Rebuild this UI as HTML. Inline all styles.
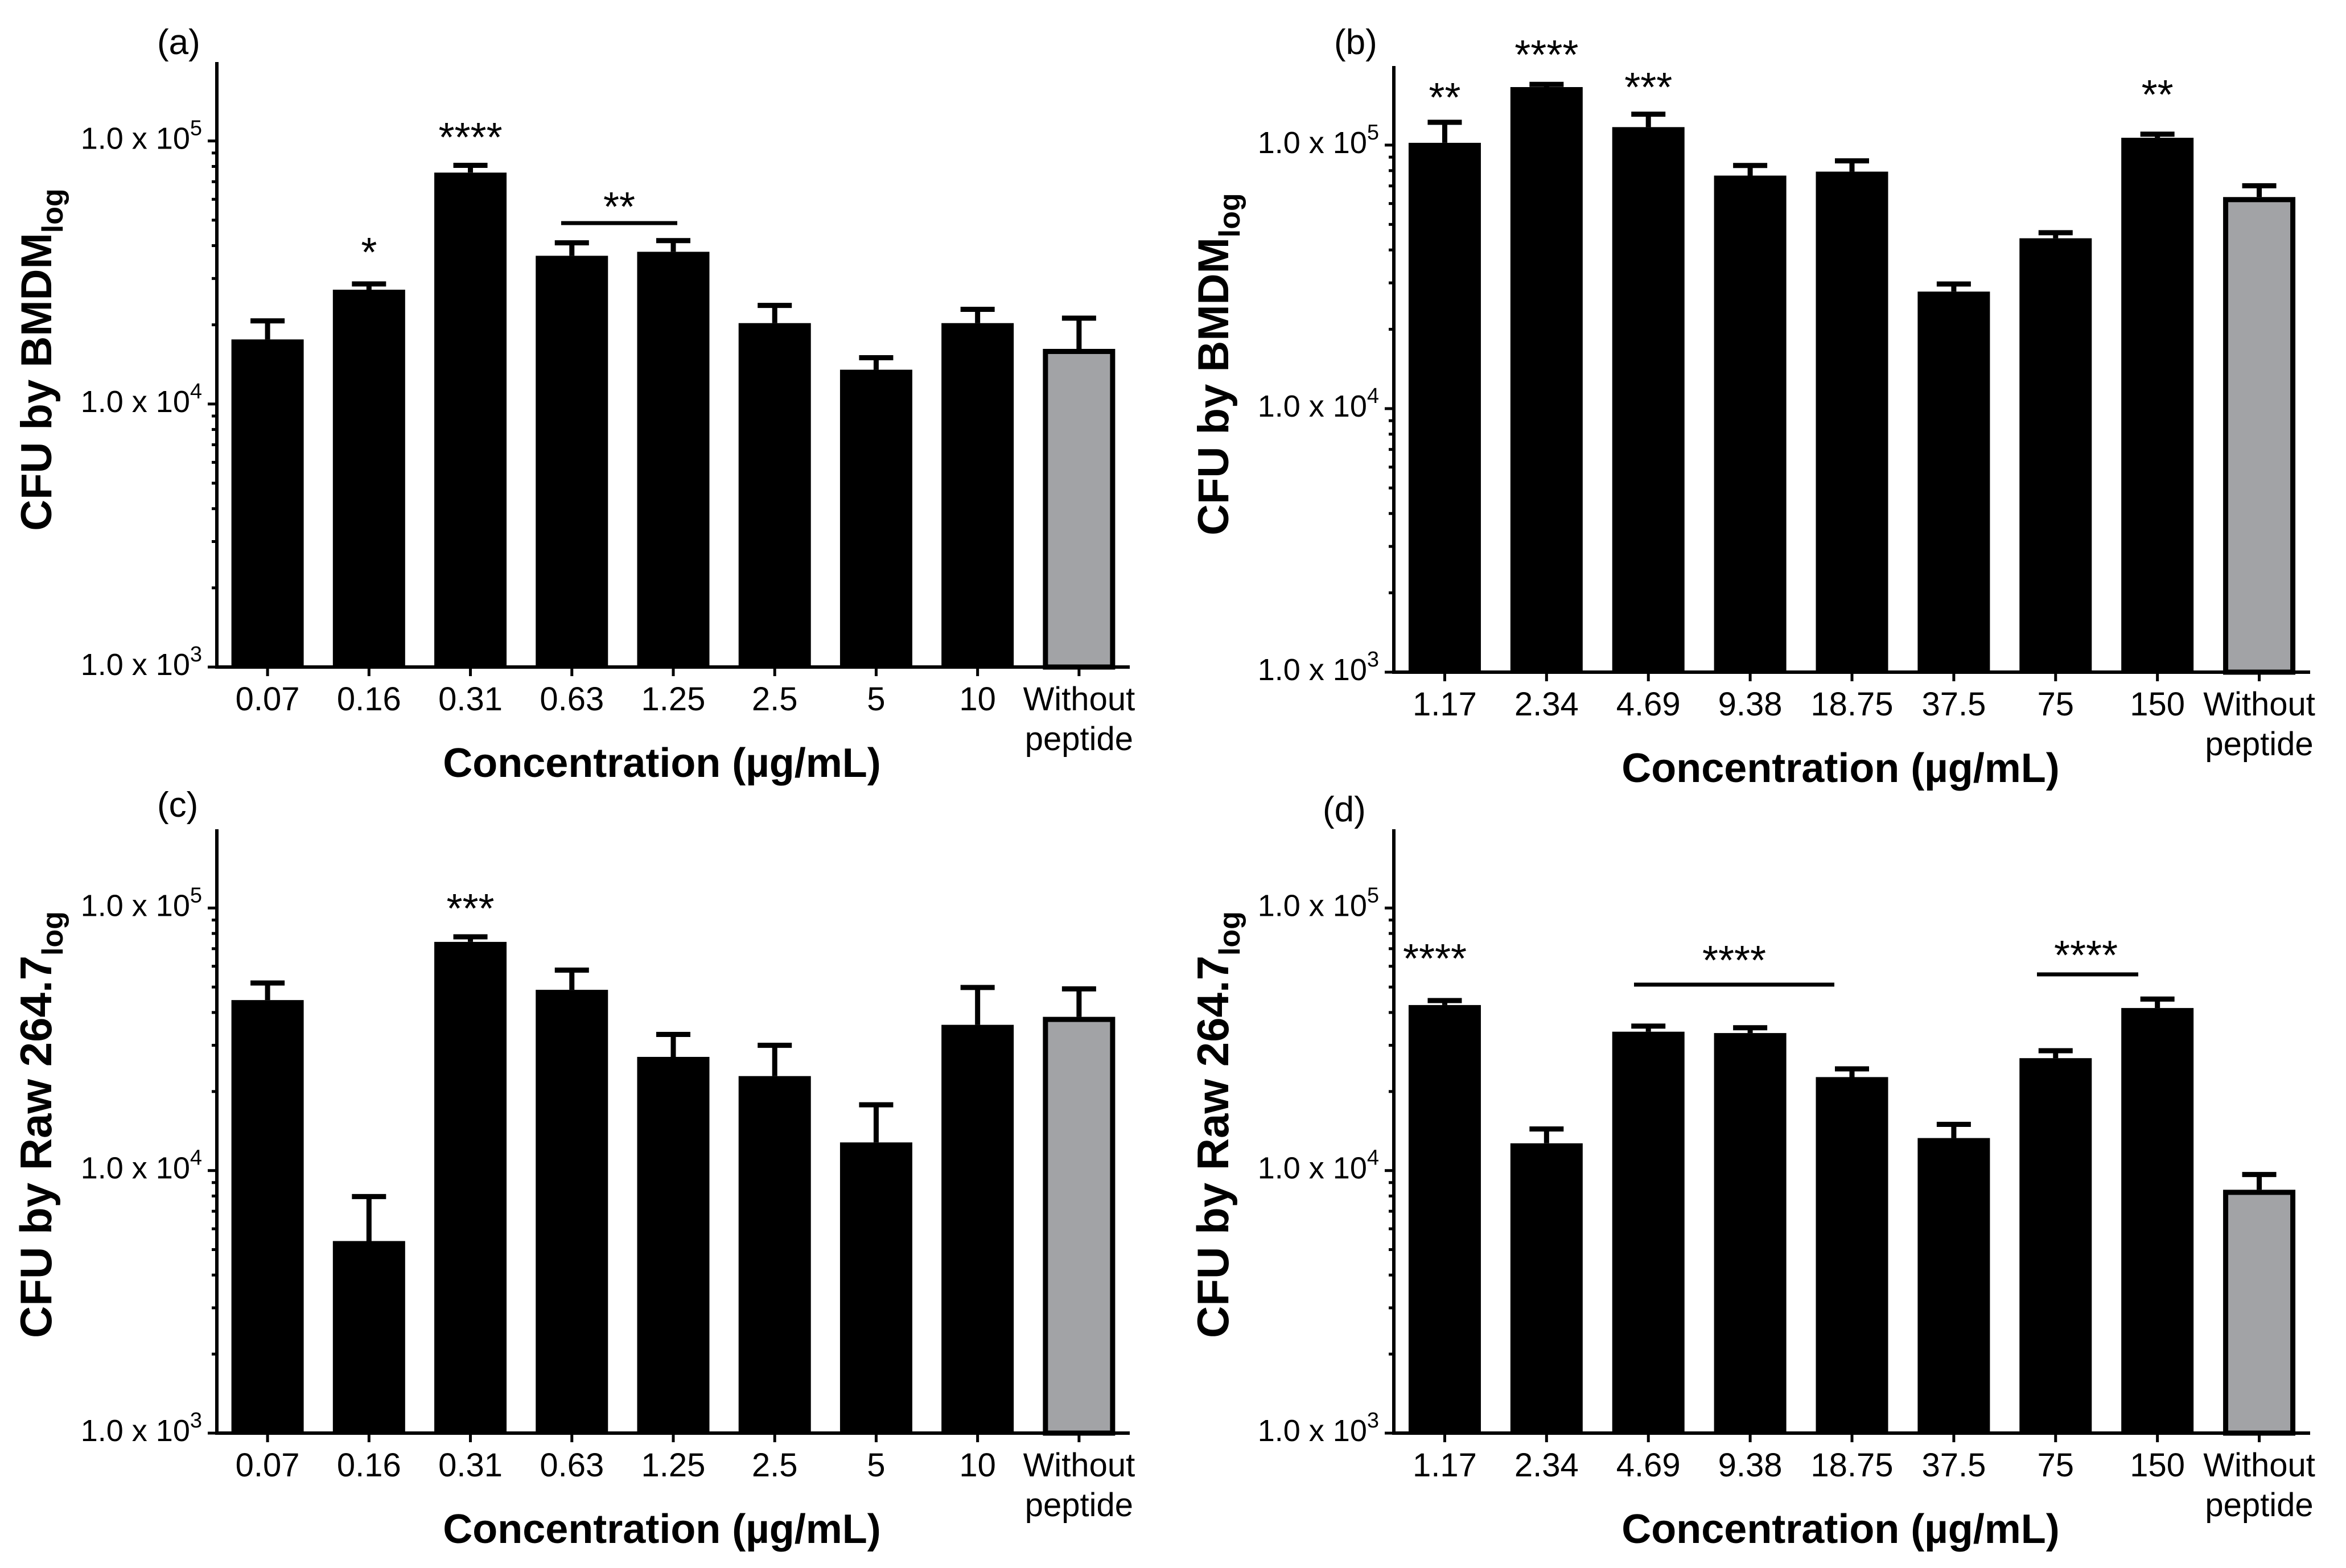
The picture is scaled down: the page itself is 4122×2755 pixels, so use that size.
<!DOCTYPE html>
<html><head><meta charset="utf-8">
<style>
html,body{margin:0;padding:0;background:#fff;}
svg{display:block;}
text{font-family:"Liberation Sans",Arial,sans-serif;fill:#000;}
</style></head>
<body>
<svg id="chart" xmlns="http://www.w3.org/2000/svg" width="4122" height="2755" viewBox="0 0 4122 2755">
<rect x="0" y="0" width="4122" height="2755" fill="#fff"/>
</svg>
<script>
// ---- data ----
const catsA = ["0.07","0.16","0.31","0.63","1.25","2.5","5","10","Without peptide"];
const catsB = ["1.17","2.34","4.69","9.38","18.75","37.5","75","150","Without peptide"];
const valsA = [17600,27200,75800,36600,37900,20300,13500,20300,16200];
const errA  = [20700,28600,80800,41000,41800,23700,15000,22900,21200];
const valsB = [102000,166000,117000,76600,79300,27800,44300,106600,63500];
const errB  = [122000,170000,131000,83700,87100,29700,46500,110000,70100];
const valsC = [44600,5390,74300,48800,27100,22900,12800,35900,38500];
const errC  = [51800,7960,77700,58000,33000,30000,17800,49800,49200];
const valsD = [42700,12700,33800,33400,22700,13300,26800,41600,8450];
const errD  = [44400,14400,35500,35000,24400,15000,28600,45000,9660];
const yTickExps = [3,4,5];

const svg = document.getElementById('chart');
const NS = 'http://www.w3.org/2000/svg';
function mk(tag, attrs, parent){
  const e = document.createElementNS(NS, tag);
  for (const k in attrs) e.setAttribute(k, attrs[k]);
  (parent||svg).appendChild(e);
  return e;
}

const panels = [
  {id:'a', label:'(a)', lx:276, ly:95, x0:381, x1:1985, yBot:1172, yTop:109, cats:catsA, vals:valsA, errs:errA, title:'CFU by BMDM', sub:'log', fs:76, tcy:632,
   stars:[{i:1,t:'*',y:468},{i:2,t:'****',y:266},{t:'**',x:1088,y:388,line:[986,1190,392]}]},
  {id:'b', label:'(b)', lx:2344, ly:95, x0:2449, x1:4059, yBot:1181, yTop:116, cats:catsB, vals:valsB, errs:errB, title:'CFU by BMDM', sub:'log', fs:76, tcy:640,
   stars:[{i:0,t:'**',y:196},{i:1,t:'****',y:121},{i:2,t:'***',y:178},{i:7,t:'**',y:191}]},
  {id:'c', label:'(c)', lx:276, ly:1435, x0:381, x1:1985, yBot:2518, yTop:1457, cats:catsA, vals:valsC, errs:errC, title:'CFU by Raw 264.7', sub:'log', fs:78, tcy:1976,
   stars:[{i:2,t:'***',y:1621}]},
  {id:'d', label:'(d)', lx:2324, ly:1443, x0:2449, x1:4059, yBot:2518, yTop:1457, cats:catsB, vals:valsD, errs:errD, title:'CFU by Raw 264.7', sub:'log', fs:78, tcy:1976,
   stars:[{t:'****',x:2521,y:1709},{t:'****',x:3047,y:1712,line:[2871,3223,1730]},{t:'****',x:3665,y:1703,line:[3579,3757,1712]}]}
];

panels.forEach(p => {
  const g = mk('g', {});
  
  
  const lmin = 3, lmax = 5.3;
  const y = v => p.yBot - (Math.log10(v) - lmin) / (lmax - lmin) * (p.yBot - p.yTop);
  const n = p.cats.length;
  const band = (p.x1 - p.x0) / n;
  const xc = i => p.x0 + band * (i + 0.5);
  const bw = 127;

  const pl = mk('text', {x:p.lx, y:p.ly, 'font-size':62}, g);
  pl.textContent = p.label;
  
  

  p.vals.forEach((v, i) => {
    const last = i === n - 1;
    const top = y(v);
    const r = mk('rect', last ? {x:xc(i)-bw/2+4.5, y:top+4.5, width:bw-9, height:p.yBot-top-4.5, fill:'#a2a3a6', stroke:'#000', 'stroke-width':9}
                               : {x:xc(i)-bw/2, y:top, width:bw, height:p.yBot-top, fill:'#000'}, g);
    
    
    const et = y(p.errs[i]);
    const eb = mk('path', {d:`M${xc(i)},${top} V${et} M${xc(i)-30},${et} H${xc(i)+30}`, stroke:'#000', 'stroke-width':9, fill:'none'}, g);
    
    
  });

  const ya = mk('line', {x1:p.x0, y1:p.yTop, x2:p.x0, y2:p.yBot+3, stroke:'#000', 'stroke-width':6}, g);
  
  
  const xa = mk('line', {x1:p.x0-3, y1:p.yBot, x2:p.x1, y2:p.yBot, stroke:'#000', 'stroke-width':6}, g);
  
  

  for (let e = 3; e <= 5; e++) {
    for (let m = 1; m <= 9; m++) {
      const v = m * Math.pow(10, e);
      if (Math.log10(v) > lmax + 1e-6) break;
      const yy = y(v);
      const len = m === 1 ? 16 : 9;
      const t = mk('line', {x1:p.x0-len, y1:yy, x2:p.x0, y2:yy, stroke:'#000', 'stroke-width':5}, g);
      
      
    }
  }
  yTickExps.forEach(e => {
    const yy = y(Math.pow(10, e));
    const t = mk('text', {x:p.x0-26, y:yy+14, 'font-size':54, 'text-anchor':'end'}, g);
    
    
    const a = mk('tspan', {}, t); a.textContent = '1.0 x 10';
    const b = mk('tspan', {'font-size':38, dy:-24}, t); b.textContent = String(e);
  });

  p.cats.forEach((c, i) => {
    const t = mk('line', {x1:xc(i), y1:p.yBot, x2:xc(i), y2:p.yBot+16, stroke:'#000', 'stroke-width':5}, g);
    
    
    const parts = c === 'Without peptide' ? ['Without','peptide'] : [c];
    parts.forEach((s, k) => {
      const tl = mk('text', {x:xc(i), y:p.yBot+76+k*70, 'font-size':58, 'text-anchor':'middle'}, g);
      tl.textContent = s;
      
      
    });
  });

  const xt = mk('text', {x:(p.x0+p.x1)/2 - 20, y:p.yBot+193, 'font-size':72, 'font-weight':'bold', 'text-anchor':'middle'}, g);
  xt.textContent = 'Concentration (\u00b5g/mL)';
  
  

  const yt = mk('text', {transform:`translate(${p.x0-291},${p.tcy}) rotate(-90)`, 'font-size':p.fs, 'font-weight':'bold', 'text-anchor':'middle'}, g);
  
  
  const ya1 = mk('tspan', {}, yt); ya1.textContent = p.title;
  const ya2 = mk('tspan', {'font-size':52, dy:20}, yt); ya2.textContent = p.sub;

  p.stars.forEach(s => {
    const sx = s.x !== undefined ? s.x : xc(s.i);
    const st = mk('text', {x:sx, y:s.y, 'font-size':72, 'text-anchor':'middle'}, g);
    st.textContent = s.t;
    
    
    if (s.line) {
      const ln = mk('line', {x1:s.line[0], y1:s.line[2], x2:s.line[1], y2:s.line[2], stroke:'#000', 'stroke-width':7}, g);
      
      
    }
  });
});
</script>
</body></html>
